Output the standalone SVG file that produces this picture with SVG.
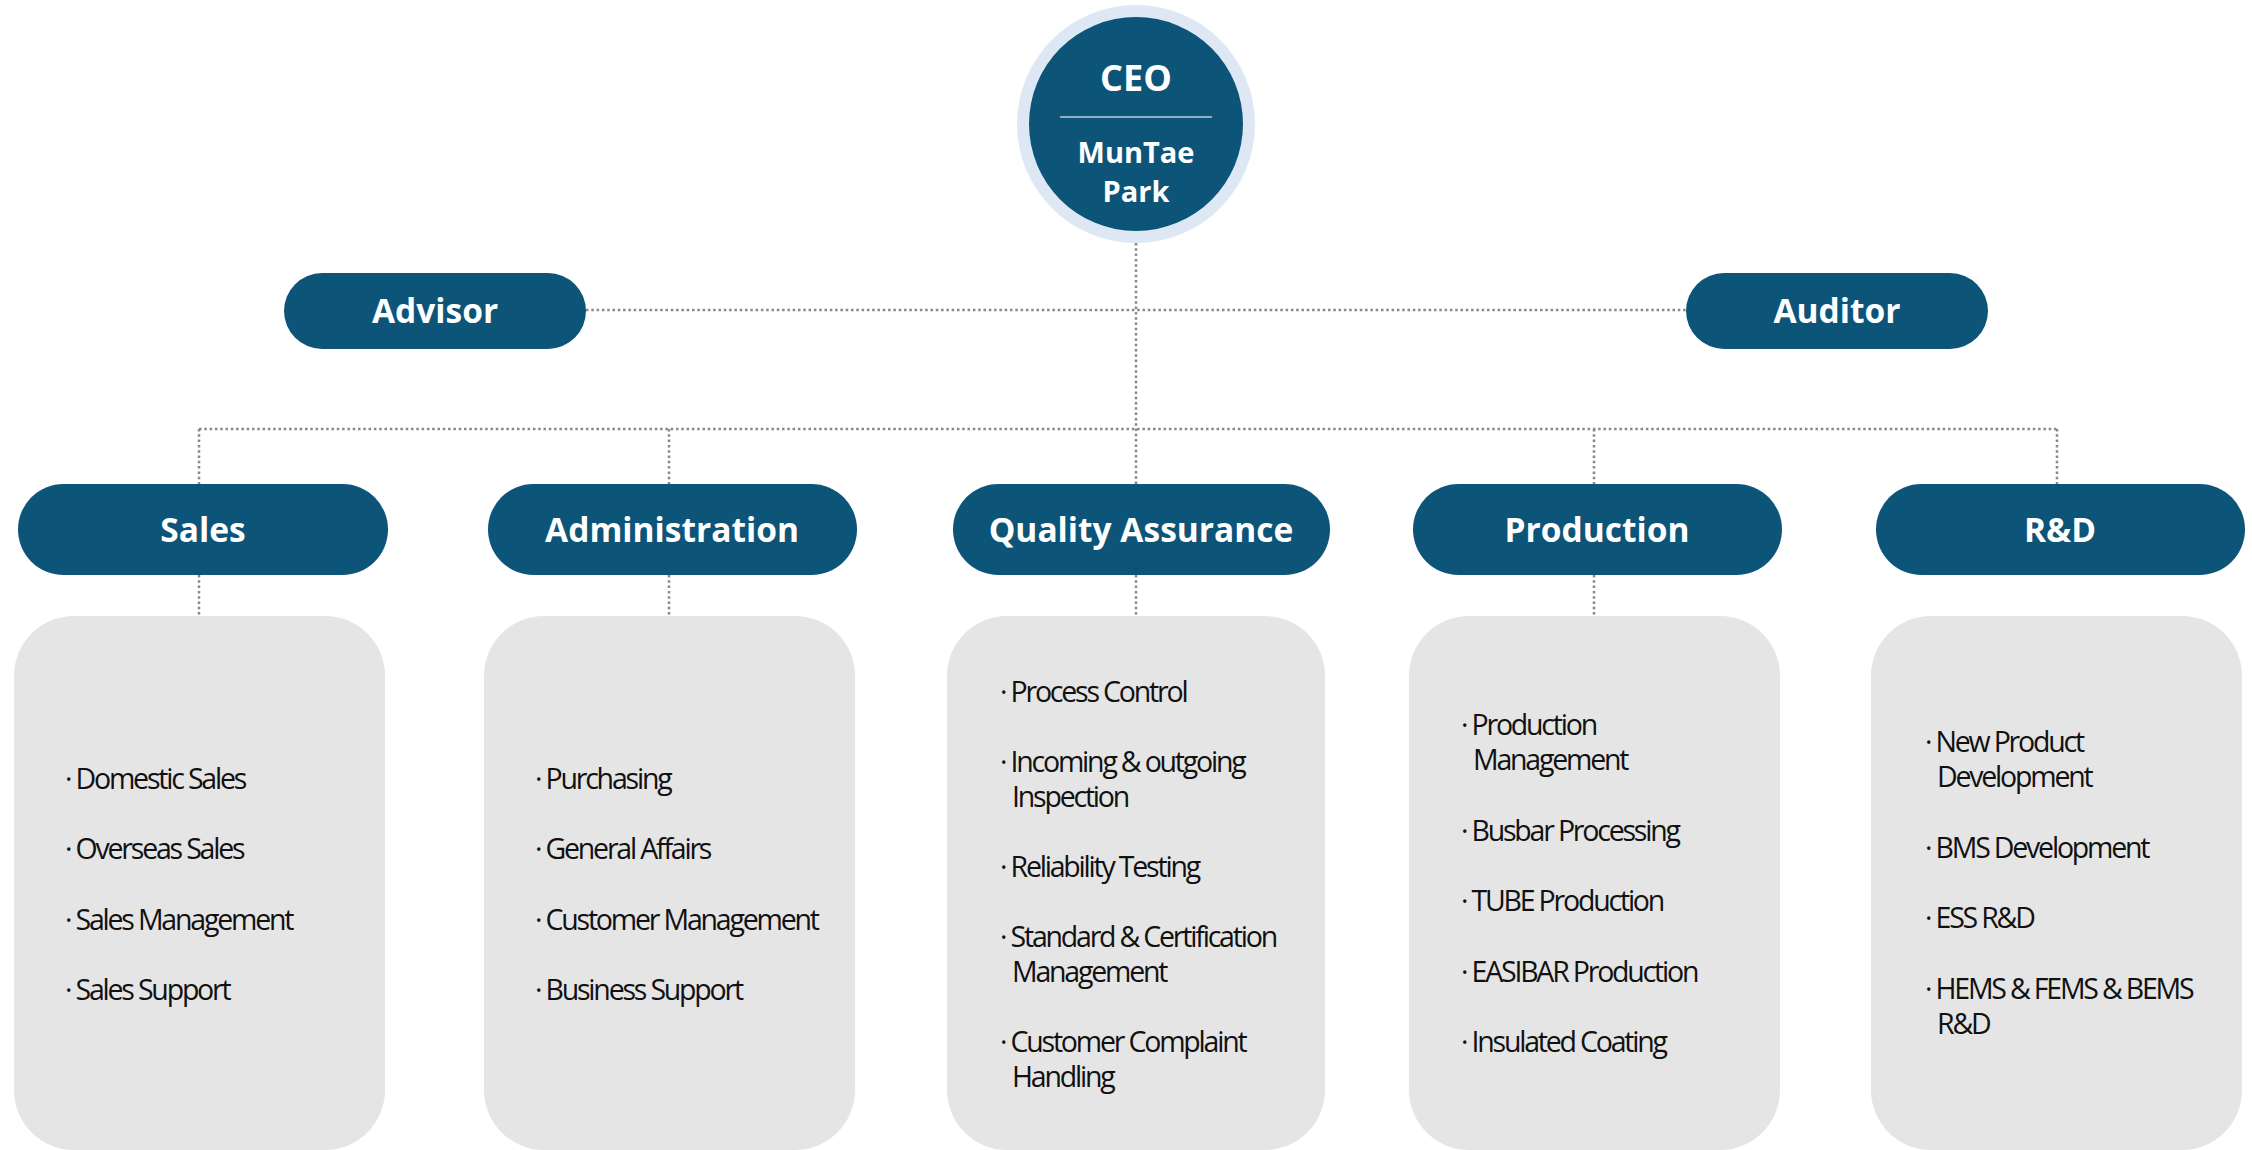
<svg xmlns="http://www.w3.org/2000/svg" width="2252" height="1150" viewBox="0 0 2252 1150">
<style>
.pill{fill:#0d5479}
.box{fill:#e5e5e5}
.lbl{font-family:"Open Sans","Noto Sans",sans-serif;font-weight:700;font-size:33.5px;fill:#fff;text-anchor:middle}
.it{font-family:"Open Sans","Noto Sans",sans-serif;font-size:28.5px;letter-spacing:-2.2px;fill:#111}
.dot{stroke:#888;stroke-width:2.5;stroke-dasharray:2.5 2.8;fill:none}
</style>
<rect width="2252" height="1150" fill="#fff"/>
<g id="connectors">
<line class="dot" x1="1136" y1="243" x2="1136" y2="484"/>
<line class="dot" x1="586" y1="310" x2="1686" y2="310"/>
<line class="dot" x1="199" y1="429" x2="2057" y2="429"/>
<line class="dot" x1="199" y1="429" x2="199" y2="484"/>
<line class="dot" x1="669" y1="429" x2="669" y2="484"/>
<line class="dot" x1="1594" y1="429" x2="1594" y2="484"/>
<line class="dot" x1="2057" y1="429" x2="2057" y2="484"/>
<line class="dot" x1="199" y1="575" x2="199" y2="616"/>
<line class="dot" x1="669" y1="575" x2="669" y2="616"/>
<line class="dot" x1="1136" y1="575" x2="1136" y2="616"/>
<line class="dot" x1="1594" y1="575" x2="1594" y2="616"/>
</g>
<g id="ceo">
<circle cx="1136" cy="124" r="119" fill="#dde8f4"/>
<circle cx="1136" cy="124" r="107" fill="#0d5479"/>
<line x1="1060" y1="117" x2="1212" y2="117" stroke="#b9cfe2" stroke-width="1.5"/>
<text class="lbl" x="1136" y="91" style="font-size:36px">CEO</text>
<text class="lbl" x="1136" y="163" style="font-size:29px">MunTae</text>
<text class="lbl" x="1136" y="202" style="font-size:29px">Park</text>
</g>
<g id="advisor">
<rect class="pill" x="284" y="273" width="302" height="76" rx="38"/>
<text class="lbl" x="435" y="323">Advisor</text>
</g>
<g id="auditor">
<rect class="pill" x="1686" y="273" width="302" height="76" rx="38"/>
<text class="lbl" x="1837" y="323">Auditor</text>
</g>
<g id="sales">
<rect class="pill" x="18" y="484" width="370" height="91" rx="45.5"/>
<text class="lbl" x="203" y="542">Sales</text>
<rect class="box" x="14" y="616" width="371" height="534" rx="60"/>
<text class="it" x="65" y="789">· Domestic Sales</text>
<text class="it" x="65" y="859">· Overseas Sales</text>
<text class="it" x="65" y="930">· Sales Management</text>
<text class="it" x="65" y="1000">· Sales Support</text>
</g>
<g id="administration">
<rect class="pill" x="488" y="484" width="369" height="91" rx="45.5"/>
<text class="lbl" x="672" y="542">Administration</text>
<rect class="box" x="484" y="616" width="371" height="534" rx="60"/>
<text class="it" x="535" y="789">· Purchasing</text>
<text class="it" x="535" y="859">· General Affairs</text>
<text class="it" x="535" y="930">· Customer Management</text>
<text class="it" x="535" y="1000">· Business Support</text>
</g>
<g id="quality">
<rect class="pill" x="953" y="484" width="377" height="91" rx="45.5"/>
<text class="lbl" x="1141" y="542">Quality Assurance</text>
<rect class="box" x="947" y="616" width="378" height="534" rx="60"/>
<text class="it" x="1000" y="702">· Process Control</text>
<text class="it" x="1000" y="772">· Incoming &amp; outgoing</text>
<text class="it" x="1012" y="807">Inspection</text>
<text class="it" x="1000" y="877">· Reliability Testing</text>
<text class="it" x="1000" y="947">· Standard &amp; Certification</text>
<text class="it" x="1012" y="982">Management</text>
<text class="it" x="1000" y="1052">· Customer Complaint</text>
<text class="it" x="1012" y="1087">Handling</text>
</g>
<g id="production">
<rect class="pill" x="1413" y="484" width="369" height="91" rx="45.5"/>
<text class="lbl" x="1597" y="542">Production</text>
<rect class="box" x="1409" y="616" width="371" height="534" rx="60"/>
<text class="it" x="1461" y="735">· Production</text>
<text class="it" x="1473" y="770">Management</text>
<text class="it" x="1461" y="841">· Busbar Processing</text>
<text class="it" x="1461" y="911">· TUBE Production</text>
<text class="it" x="1461" y="982">· EASIBAR Production</text>
<text class="it" x="1461" y="1052">· Insulated Coating</text>
</g>
<g id="rnd">
<rect class="pill" x="1876" y="484" width="369" height="91" rx="45.5"/>
<text class="lbl" x="2060" y="542">R&amp;D</text>
<rect class="box" x="1871" y="616" width="371" height="534" rx="60"/>
<text class="it" x="1925" y="752">· New Product</text>
<text class="it" x="1937" y="787">Development</text>
<text class="it" x="1925" y="858">· BMS Development</text>
<text class="it" x="1925" y="928">· ESS R&amp;D</text>
<text class="it" x="1925" y="999">· HEMS &amp; FEMS &amp; BEMS</text>
<text class="it" x="1937" y="1034">R&amp;D</text>
</g>
</svg>
